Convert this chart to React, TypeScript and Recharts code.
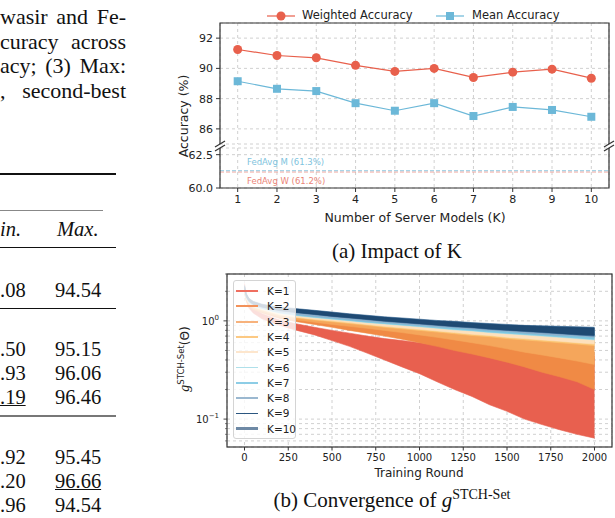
import React from 'react';
import { LineChart, Line, XAxis, YAxis, CartesianGrid, ReferenceLine, ComposedChart, Area } from 'recharts';

const SANS = '"DejaVu Sans", sans-serif';
const SERIF = '"Liberation Serif", "Times New Roman", serif';

// ---- (a) Impact of K ----
const serverModels = [1, 2, 3, 4, 5, 6, 7, 8, 9, 10];
const weightedAcc = [91.25, 90.85, 90.7, 90.2, 89.8, 90.0, 89.4, 89.75, 89.95, 89.35];
const meanAcc = [89.15, 88.65, 88.5, 87.7, 87.2, 87.7, 86.85, 87.45, 87.25, 86.8];
const fedAvgW = 61.2;
const fedAvgM = 61.3;
const upperTicks = [86, 88, 90, 92];
const lowerTicks = [60, 62.5];

// ---- (b) Convergence ----
const rounds = [0, 10, 25, 50, 100, 200, 300, 400, 500, 600, 700, 800, 900, 1000, 1100, 1200, 1300, 1400, 1500, 1600, 1700, 1800, 1900, 2000];
const roundTicks = [0, 250, 500, 750, 1000, 1250, 1500, 1750, 2000];
const logTicks = [0.06, 0.07, 0.08, 0.09, 0.1, 0.2, 0.3, 0.4, 0.5, 0.6, 0.7, 0.8, 0.9, 1, 2, 3];

const k1High = [2.4, 1.9, 1.55, 1.35, 1.18, 1.02, 0.93, 0.86, 0.8, 0.75, 0.7, 0.66, 0.63, 0.6, 0.57, 0.55, 0.52, 0.5, 0.48, 0.47, 0.46, 0.45, 0.45, 0.44];
const k1Low = [2.0, 1.6, 1.35, 1.2, 1.05, 0.9, 0.8, 0.72, 0.63, 0.55, 0.47, 0.4, 0.34, 0.29, 0.24, 0.2, 0.17, 0.14, 0.12, 0.1, 0.088, 0.078, 0.07, 0.064];
const k2High = [2.1, 1.75, 1.55, 1.42, 1.3, 1.16, 1.1, 1.05, 1.0, 0.96, 0.92, 0.88, 0.84, 0.8, 0.76, 0.72, 0.68, 0.64, 0.6, 0.57, 0.54, 0.52, 0.5, 0.48];
const k2Low = [1.9, 1.6, 1.42, 1.3, 1.2, 1.06, 0.98, 0.92, 0.86, 0.8, 0.75, 0.7, 0.65, 0.6, 0.55, 0.5, 0.46, 0.42, 0.38, 0.34, 0.3, 0.27, 0.24, 0.2];
const k3High = [2.1, 1.78, 1.58, 1.45, 1.33, 1.2, 1.13, 1.08, 1.04, 1.0, 0.96, 0.92, 0.89, 0.86, 0.83, 0.8, 0.77, 0.74, 0.71, 0.68, 0.66, 0.64, 0.62, 0.6];
const k3Low = [1.95, 1.65, 1.46, 1.34, 1.24, 1.1, 1.02, 0.97, 0.92, 0.88, 0.84, 0.8, 0.76, 0.72, 0.68, 0.64, 0.6, 0.56, 0.52, 0.48, 0.45, 0.42, 0.39, 0.36];
const k4High = [2.15, 1.8, 1.6, 1.47, 1.36, 1.23, 1.17, 1.12, 1.08, 1.04, 1.0, 0.97, 0.94, 0.92, 0.89, 0.87, 0.84, 0.82, 0.8, 0.78, 0.76, 0.74, 0.72, 0.7];
const k4Low = [2.0, 1.68, 1.5, 1.38, 1.28, 1.14, 1.07, 1.02, 0.98, 0.94, 0.9, 0.86, 0.83, 0.8, 0.77, 0.74, 0.71, 0.69, 0.66, 0.64, 0.62, 0.6, 0.58, 0.56];
const k5High = [2.15, 1.82, 1.62, 1.49, 1.38, 1.25, 1.19, 1.14, 1.1, 1.06, 1.02, 0.99, 0.96, 0.94, 0.91, 0.89, 0.86, 0.84, 0.82, 0.8, 0.78, 0.76, 0.74, 0.72];
const k5Low = [2.0, 1.7, 1.52, 1.4, 1.3, 1.16, 1.09, 1.04, 1.0, 0.96, 0.92, 0.88, 0.85, 0.82, 0.79, 0.76, 0.73, 0.71, 0.68, 0.66, 0.64, 0.62, 0.6, 0.58];
const k6High = [2.2, 1.85, 1.65, 1.52, 1.42, 1.29, 1.23, 1.18, 1.14, 1.1, 1.06, 1.03, 1.0, 0.97, 0.95, 0.92, 0.9, 0.88, 0.86, 0.84, 0.82, 0.8, 0.79, 0.77];
const k6Low = [2.05, 1.72, 1.54, 1.42, 1.33, 1.2, 1.13, 1.08, 1.04, 1.0, 0.96, 0.93, 0.9, 0.87, 0.84, 0.81, 0.79, 0.76, 0.74, 0.72, 0.7, 0.68, 0.66, 0.64];
const k7High = [2.2, 1.86, 1.66, 1.53, 1.43, 1.3, 1.24, 1.19, 1.15, 1.11, 1.07, 1.04, 1.01, 0.98, 0.96, 0.93, 0.91, 0.89, 0.87, 0.85, 0.83, 0.81, 0.8, 0.78];
const k7Low = [2.05, 1.73, 1.55, 1.43, 1.34, 1.21, 1.14, 1.09, 1.05, 1.01, 0.97, 0.94, 0.91, 0.88, 0.85, 0.82, 0.8, 0.77, 0.75, 0.73, 0.71, 0.69, 0.67, 0.65];
const k8High = [2.25, 1.88, 1.68, 1.55, 1.45, 1.33, 1.27, 1.22, 1.17, 1.13, 1.09, 1.06, 1.03, 1.0, 0.98, 0.95, 0.93, 0.91, 0.89, 0.87, 0.85, 0.83, 0.82, 0.8];
const k8Low = [2.1, 1.75, 1.57, 1.45, 1.36, 1.23, 1.16, 1.11, 1.07, 1.03, 0.99, 0.96, 0.93, 0.9, 0.87, 0.85, 0.82, 0.8, 0.78, 0.75, 0.73, 0.71, 0.7, 0.68];
const k9High = [2.3, 1.9, 1.7, 1.58, 1.48, 1.38, 1.33, 1.28, 1.23, 1.18, 1.14, 1.1, 1.07, 1.04, 1.01, 0.99, 0.96, 0.94, 0.92, 0.9, 0.89, 0.88, 0.87, 0.86];
const k9Low = [2.1, 1.76, 1.58, 1.47, 1.38, 1.27, 1.21, 1.16, 1.11, 1.07, 1.03, 0.99, 0.96, 0.93, 0.9, 0.87, 0.85, 0.82, 0.8, 0.78, 0.76, 0.74, 0.72, 0.7];
const k10High = [2.25, 1.88, 1.68, 1.56, 1.46, 1.36, 1.31, 1.26, 1.21, 1.16, 1.12, 1.08, 1.05, 1.02, 0.99, 0.97, 0.94, 0.92, 0.9, 0.89, 0.87, 0.86, 0.85, 0.84];
const k10Low = [2.12, 1.78, 1.6, 1.48, 1.39, 1.28, 1.22, 1.17, 1.12, 1.08, 1.04, 1.0, 0.97, 0.94, 0.91, 0.88, 0.86, 0.83, 0.81, 0.79, 0.77, 0.75, 0.73, 0.72];

const kLabels = ['K=1', 'K=2', 'K=3', 'K=4', 'K=5', 'K=6', 'K=7', 'K=8', 'K=9', 'K=10'];
const kHighs = [k1High, k2High, k3High, k4High, k5High, k6High, k7High, k8High, k9High, k10High];
const kLows = [k1Low, k2Low, k3Low, k4Low, k5Low, k6Low, k7Low, k8Low, k9Low, k10Low];
const kColors = ['#e8604f', '#f08a45', '#f5a65b', '#fbc572', '#fde0bc', '#a7dbe6', '#7cc6e0', '#8cb0cc', '#2b5d8a', '#1d466e'];
const kLegendColors = ['#ef6f60', '#f3925a', '#f7b27c', '#fcc983', '#fde6cd', '#afe0ea', '#8dcde6', '#9bb8d0', '#2b5680', '#6e89a5'];
const kLegendWidths = [1.5, 2, 2, 1.5, 2, 1.5, 1.5, 2, 1.5, 2.5];

// ---- paper text on the left (cropped page) ----
const paperLines = ['wasir and Fe-', 'curacy across', 'acy; (3) Max:', ', second-best'];
const minCol = ['.08', '.50', '.93', '.19', '.92', '.20', '.96'];
const maxCol = ['94.54', '95.15', '96.06', '96.46', '95.45', '96.66', '94.54'];
const rowY = [290, 349, 373, 397, 457, 481, 505];

const RED = '#e8604c';
const BLUE = '#6cb8d8';

const accData = serverModels.map((k, i) => ({ k, weighted: weightedAcc[i], mean: meanAcc[i] }));
const convData = rounds.map((round, i) => {
  const row: any = { round };
  kLabels.forEach((_, j) => {
    row['k' + (j + 1)] = [kLows[j][i], kHighs[j][i]];
  });
  return row;
});

const SquareDot = (props: any) => {
  const { cx, cy } = props;
  return <rect x={cx - 4} y={cy - 4} width={8} height={8} fill={BLUE} />;
};

const LogTick = (props: any) => {
  const { x, y, payload } = props;
  const v = payload.value;
  const major = Math.abs(v - 0.1) < 1e-9 || Math.abs(v - 1) < 1e-9;
  return (
    <g>
      <line x1={x} x2={x - (major ? 3.5 : 2)} y1={y} y2={y} stroke="#333" strokeWidth={major ? 0.9 : 0.6} />
      {major && (
        <text x={x - 8} y={y + 4} textAnchor="end" fontSize={10} fill="#222" fontFamily={SANS}>
          10
          <tspan dy={-5} fontSize={7}>{v === 1 ? '0' : '\u22121'}</tspan>
        </text>
      )}
    </g>
  );
};

const AccLegend = () => (
  <div style={{ position: 'relative', width: 615, height: 20, fontFamily: SANS, fontSize: 11.5, color: '#222' }}>
    <svg style={{ position: 'absolute', left: 0, top: 0 }} width={615} height={20}>
      <line x1={267} x2={295} y1={10} y2={10} stroke={RED} strokeWidth={1.2} />
      <circle cx={281} cy={10} r={4.5} fill={RED} />
      <line x1={436} x2={464} y1={10} y2={10} stroke={BLUE} strokeWidth={1.2} />
      <rect x={446} y={6} width={8} height={8} fill={BLUE} />
    </svg>
    <span style={{ position: 'absolute', left: 302, top: 2 }}>Weighted Accuracy</span>
    <span style={{ position: 'absolute', left: 472, top: 2 }}>Mean Accuracy</span>
  </div>
);

const fedLabel = (text: string, color: string, dy: number) => (p: any) => {
  const vb = p.viewBox || {};
  return (
    <text x={(vb.x || 0) + 27} y={(vb.y || 0) + dy} fontSize={8.5} fill={color} fontFamily={SANS}>
      {text}
    </text>
  );
};

const abs = (left: number, top: number, extra: any = {}) => ({ position: 'absolute' as const, left, top, ...extra });

const serifText = { fontFamily: SERIF, fontSize: 20.5, lineHeight: '24px', color: '#111', whiteSpace: 'nowrap' as const };

export default function App() {
  const axisTick = { fontSize: 11, fill: '#222', fontFamily: SANS };
  return (
    <div style={{ position: 'absolute', left: 0, top: 0, width: 615, height: 518, overflow: 'hidden', background: '#fff' }}>
      {/* paper text, justified to the column edge */}
      {paperLines.map((t, i) => (
        <div key={i} style={abs(0, 5 + i * 24.5, { ...serifText, fontSize: 22, whiteSpace: 'normal', width: 126, textAlign: 'justify', textAlignLast: 'justify' })}>
          {t}
        </div>
      ))}
      <div style={abs(0, 173, { width: 116, height: 1.6, background: '#111' })} />
      <div style={abs(0, 210, { width: 103, height: 1.2, background: '#888' })} />
      <div style={abs(0, 217, { ...serifText, fontStyle: 'italic' })}>in.</div>
      <div style={abs(57, 217, { ...serifText, fontStyle: 'italic' })}>Max.</div>
      <div style={abs(0, 247, { width: 116, height: 1, background: '#111' })} />
      <div style={abs(0, 308, { width: 116, height: 1, background: '#111' })} />
      <div style={abs(0, 415, { width: 116, height: 1.6, background: '#777' })} />
      {minCol.map((m, i) => (
        <React.Fragment key={i}>
          <div style={abs(0, rowY[i] - 12, serifText)}>
            <span style={{ textDecoration: i === 3 ? 'underline' : 'none', textDecorationThickness: 1 }}>{m}</span>
          </div>
          <div style={abs(55, rowY[i] - 12, serifText)}>
            <span style={{ textDecoration: i === 5 ? 'underline' : 'none', textDecorationThickness: 1 }}>{maxCol[i]}</span>
          </div>
        </React.Fragment>
      ))}

      {/* (a) upper panel */}
      <div style={abs(0, 6)}>
        <AccLegend />
      </div>
      <div style={abs(0, 0)}>
        <LineChart width={615} height={150} data={accData} margin={{ top: 23, right: 6, bottom: 6, left: 0 }}>
          <CartesianGrid stroke="#c4c4c4" strokeDasharray="3 3" strokeWidth={0.8} />
          <XAxis dataKey="k" type="number" domain={[0.55, 10.45]} ticks={serverModels} hide />
          <YAxis type="number" domain={[85, 93]} ticks={upperTicks} width={220} axisLine={false} tickSize={4} tickMargin={3} tick={axisTick} tickLine={{ stroke: '#333' }} allowDataOverflow />
          <Line type="linear" dataKey="weighted" stroke={RED} strokeWidth={1.2} dot={{ r: 4.5, fill: RED, stroke: RED, strokeWidth: 0 }} activeDot={false} isAnimationActive={false} />
          <Line type="linear" dataKey="mean" stroke={BLUE} strokeWidth={1.2} dot={<SquareDot />} activeDot={false} isAnimationActive={false} />
        </LineChart>
      </div>
      {/* (a) lower panel */}
      <div style={abs(0, 140)}>
        <LineChart width={615} height={80} data={accData} margin={{ top: 8, right: 6, bottom: 0, left: 0 }}>
          <CartesianGrid stroke="#c4c4c4" strokeDasharray="3 3" strokeWidth={0.8} />
          <XAxis dataKey="k" type="number" domain={[0.55, 10.45]} ticks={serverModels} height={32} axisLine={false} tickSize={4} tickMargin={3} tick={axisTick} tickLine={{ stroke: '#333' }} allowDataOverflow />
          <YAxis type="number" domain={[60, 63]} ticks={lowerTicks} width={220} axisLine={false} tickSize={4} tickMargin={3} tick={axisTick} tickLine={{ stroke: '#333' }} tickFormatter={(v: number) => v.toFixed(1)} allowDataOverflow />
          <ReferenceLine y={fedAvgW} stroke="#f2a49a" strokeDasharray="4 2" strokeWidth={1.2} label={fedLabel(`FedAvg W (${fedAvgW}%)`, '#ea8578', 12)} />
          <ReferenceLine y={fedAvgM} stroke="#a9d4e6" strokeDasharray="4 2" strokeWidth={1.2} label={fedLabel(`FedAvg M (${fedAvgM}%)`, '#80c3dd', -6)} />
        </LineChart>
      </div>

      {/* (b) convergence */}
      <div style={abs(0, 260)}>
        <ComposedChart width={615} height={210} data={convData} margin={{ top: 14, right: 3, bottom: 0, left: 0 }}>
          <CartesianGrid stroke="#c4c4c4" strokeDasharray="3 3" strokeWidth={0.8} />
          <XAxis dataKey="round" type="number" domain={[-100, 2100]} ticks={roundTicks} height={23} axisLine={false} tickSize={3.5} tickMargin={3} tick={{ fontSize: 10, fill: '#222', fontFamily: SANS }} tickLine={{ stroke: '#333' }} allowDataOverflow />
          <YAxis type="number" scale="log" domain={[0.052, 3]} ticks={logTicks} width={227} axisLine={false} tickLine={false} tickSize={0} tickMargin={0} tick={<LogTick />} allowDataOverflow interval={0} />
          {kLabels.map((lab, j) => (
            <Area
              key={lab}
              type="linear"
              dataKey={'k' + (j + 1)}
              name={lab}
              stroke={kColors[j]}
              strokeWidth={0.6}
              fill={kColors[j]}
              fillOpacity={j === 9 ? 0.85 : 1}
              dot={false}
              activeDot={false}
              isAnimationActive={false}
            />
          ))}
        </ComposedChart>
      </div>

      {/* spines and break marks */}
      <svg style={abs(0, 0, { pointerEvents: 'none' })} width={615} height={518}>
        <g stroke="#333" strokeWidth={1.2} fill="none">
          <polyline points="220,144 220,23 609,23 609,144" />
          <polyline points="220,148 220,188 609,188 609,148" />
          <line x1={215} y1={147} x2={225} y2={141} />
          <line x1={215} y1={151} x2={225} y2={145} />
          <line x1={604} y1={147} x2={614} y2={141} />
          <line x1={604} y1={151} x2={614} y2={145} />
          <rect x={227} y={274} width={385} height={173} />
        </g>
      </svg>

      {/* legend (b) */}
      <div style={abs(233, 280, { width: 63, height: 159, background: 'rgba(255,255,255,0.8)', border: '1px solid #d4d4d4', borderRadius: 3, boxSizing: 'border-box' })}>
        {kLabels.map((lab, j) => (
          <div key={lab} style={abs(0, 3 + j * 15.3, { width: 63, height: 15 })}>
            <div style={abs(2, 7 - kLegendWidths[j] / 2, { width: 22, height: kLegendWidths[j], background: kLegendColors[j] })} />
            <span style={abs(33, 0, { fontFamily: SANS, fontSize: 10.5, lineHeight: '15px', color: '#222', whiteSpace: 'nowrap' })}>{lab}</span>
          </div>
        ))}
      </div>

      {/* axis titles and captions */}
      <div style={abs(183, 116, { transform: 'translate(-50%, -50%) rotate(-90deg)', fontFamily: SANS, fontSize: 12.5, color: '#222', whiteSpace: 'nowrap' })}>Accuracy (%)</div>
      <div style={abs(415, 217, { transform: 'translate(-50%, -50%)', fontFamily: SANS, fontSize: 12.5, color: '#222', whiteSpace: 'nowrap' })}>Number of Server Models (K)</div>
      <div style={abs(397, 251, { transform: 'translate(-50%, -50%)', fontFamily: SERIF, fontSize: 21, color: '#111', whiteSpace: 'nowrap' })}>(a) Impact of K</div>

      <div style={abs(184, 359, { transform: 'translate(-50%, -50%) rotate(-90deg)', fontFamily: SANS, fontSize: 12, color: '#222', whiteSpace: 'nowrap' })}>
        <span style={{ fontFamily: SERIF, fontStyle: 'italic', fontSize: 14 }}>g</span>
        <sup style={{ fontSize: 8.5 }}>STCH-Set</sup>(Θ)
      </div>
      <div style={abs(419, 473, { transform: 'translate(-50%, -50%)', fontFamily: SANS, fontSize: 12, color: '#222', whiteSpace: 'nowrap' })}>Training Round</div>
      <div style={abs(392, 500, { transform: 'translate(-50%, -50%)', fontFamily: SERIF, fontSize: 21, color: '#111', whiteSpace: 'nowrap' })}>
        (b) Convergence of <span style={{ fontStyle: 'italic' }}>g</span>
        <sup style={{ fontSize: 14 }}>STCH-Set</sup>
      </div>
    </div>
  );
}
